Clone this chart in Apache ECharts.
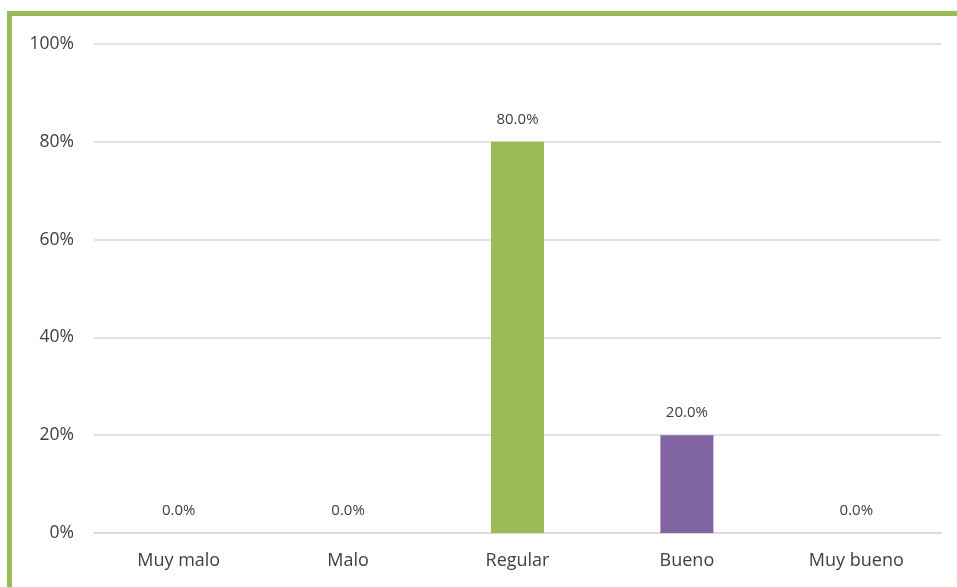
<!DOCTYPE html>
<html>
<head>
<meta charset="utf-8">
<script src="https://cdn.jsdelivr.net/npm/echarts@6/dist/echarts.min.js"></script>
<style>
  html, body { margin: 0; padding: 0; background: #fff; }
  #chart { width: 957px; height: 587px; }
</style>
</head>
<body>
<div id="chart"></div>
<script>
// categorias y valores (%)
const categories = ['Muy malo', 'Malo', 'Regular', 'Bueno', 'Muy bueno'];
const values = [0, 0, 80, 20, 0];
const yTicks = [0, 20, 40, 60, 80, 100];

const barColors = ['#4F81BD', '#C0504D', '#9BBB59', '#8064A2', '#4BACC6'];
const frameColor = '#9BBB59';

const myChart = echarts.init(document.getElementById('chart'));

const option = {
  animation: false,
  graphic: [
    { type: 'rect', shape: { x: 7, y: 11, width: 950, height: 5 }, style: { fill: frameColor } },
    { type: 'rect', shape: { x: 7, y: 11, width: 5, height: 576 }, style: { fill: frameColor } }
  ],
  grid: {
    left: 94,
    right: 16,
    top: 44,
    bottom: 54
  },
  xAxis: {
    type: 'category',
    data: categories,
    axisLine: { lineStyle: { color: '#d9d9d9', width: 1.5 } },
    axisTick: { show: false },
    axisLabel: {
      color: '#404040',
      fontFamily: 'Open Sans',
      fontSize: 18,
      margin: 19
    }
  },
  yAxis: {
    type: 'value',
    min: yTicks[0],
    max: yTicks[yTicks.length - 1],
    interval: 20,
    axisLine: { show: false },
    axisTick: { show: false },
    splitLine: { lineStyle: { color: '#d9d9d9', width: 1.5 } },
    axisLabel: {
      color: '#404040',
      fontFamily: 'Open Sans',
      fontSize: 17.5,
      margin: 20,
      formatter: '{value}%'
    }
  },
  series: [{
    type: 'bar',
    barWidth: 53,
    data: values.map((v, i) => ({ value: v, itemStyle: { color: barColors[i] } })),
    label: {
      show: true,
      position: 'top',
      distance: 15,
      color: '#404040',
      fontFamily: 'Open Sans',
      fontSize: 15,
      formatter: p => p.value.toFixed(1) + '%'
    }
  }]
};

myChart.setOption(option);
window.addEventListener('resize', myChart.resize);
</script>
</body>
</html>
